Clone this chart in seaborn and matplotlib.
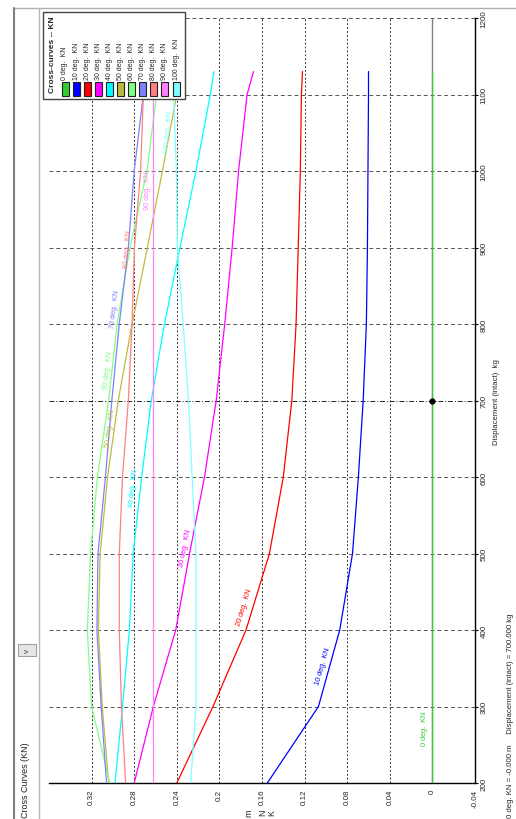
import numpy as np
import pandas as pd
import seaborn as sns
import matplotlib
matplotlib.use('Agg')
from matplotlib import pyplot as plt
from matplotlib.patches import Rectangle
from matplotlib.lines import Line2D

# displacement (kg) at which each cross curve is sampled
disp = [200, 300, 400, 500, 600, 700, 800, 900, 1000, 1100, 1130]

# KN (m) for each heel angle
kn_0 = [0.0, 0.0, 0.0, 0.0, 0.0, 0.0, 0.0, 0.0, 0.0, 0.0, 0.0]
kn_10 = [0.155, 0.107, 0.087, 0.075, 0.0695, 0.065, 0.062, 0.061, 0.0605, 0.060, 0.060]
kn_20 = [0.240, 0.206, 0.175, 0.153, 0.140, 0.132, 0.128, 0.126, 0.124, 0.123, 0.122]
kn_30 = [0.280, 0.262, 0.241, 0.228, 0.214, 0.203, 0.195, 0.188, 0.182, 0.174, 0.168]
kn_40 = [0.298, 0.291, 0.2845, 0.281, 0.273, 0.264, 0.2516, 0.237, 0.222, 0.2085, 0.205]
kn_50 = [0.304, 0.310, 0.3136, 0.312, 0.305, 0.295, 0.282, 0.2676, 0.2535, 0.240, 0.2376]
kn_60 = [0.303, 0.320, 0.324, 0.321, 0.3146, 0.304, 0.296, 0.284, 0.268, 0.259, 0.256]
kn_70 = [0.306, 0.311, 0.315, 0.314, 0.307, 0.301, 0.294, 0.2855, 0.280, 0.2714, 0.2686]
kn_80 = [0.288, 0.292, 0.294, 0.294, 0.291, 0.2855, 0.282, 0.2798, 0.274, 0.2714, 0.2695]
kn_90 = [0.262, 0.262, 0.262, 0.262, 0.262, 0.262, 0.262, 0.262, 0.262, 0.262, 0.262]
kn_100 = [0.227, 0.222, 0.222, 0.222, 0.2256, 0.229, 0.234, 0.2395, 0.2404, 0.243, 0.244]

names = ['0 deg.  KN', '10 deg.  KN', '20 deg.  KN', '30 deg.  KN', '40 deg.  KN', '50 deg.  KN',
         '60 deg.  KN', '70 deg.  KN', '80 deg.  KN', '90 deg.  KN', '100 deg.  KN']
series = [kn_0, kn_10, kn_20, kn_30, kn_40, kn_50, kn_60, kn_70, kn_80, kn_90, kn_100]
colors = ['#33cc33', '#0000ff', '#ff0000', '#ff00ff', '#00ffff', '#bcbc3c',
          '#80ff80', '#8080ff', '#ff8080', '#ff80ff', '#80ffff']

kn_ticks = [-0.04, 0.0, 0.04, 0.08, 0.12, 0.16, 0.2, 0.24, 0.28, 0.32]
kn_tick_labels = ['-0.04', '0', '0.04', '0.08', '0.12', '0.16', '0.2', '0.24', '0.28', '0.32']
disp_ticks = [200, 300, 400, 500, 600, 700, 800, 900, 1000, 1100, 1200]

# current condition marker
mark_kn = 0.0
mark_disp = 700

rows = []
for name, vals in zip(names, series):
    for d, k in zip(disp, vals):
        rows.append((name, d, k))
df = pd.DataFrame(rows, columns=['curve', 'disp', 'kn'])

sns.set_style('white')
plt.rcParams['font.family'] = ['Liberation Sans Narrow', 'Liberation Sans', 'DejaVu Sans']

W, H = 516, 820
fig = plt.figure(figsize=(W / 100, H / 100), dpi=100)


def fx(px):
    return px / W


def fy(py):
    return 1 - py / H


ax = fig.add_axes([fx(49), fy(784), fx(475) - fx(49), fy(19) - fy(784)])
ax.set_xlim(0.36, -0.04)
ax.set_ylim(200, 1200)

# grid
for k in kn_ticks:
    if k == -0.04:
        continue
    if k == 0.0:
        ax.axvline(k, color='#808080', lw=1, zorder=1)
    else:
        ax.axvline(k, color='#333333', lw=0.7, ls=(0, (2, 2)), zorder=1)
for d in disp_ticks:
    if d == 200:
        continue
    if d == mark_disp:
        ax.axhline(d, color='#222222', lw=0.7, ls=(0, (5, 2, 1, 2)), zorder=1)
    else:
        ax.axhline(d, color='#555555', lw=0.7, ls=(0, (4, 3)), zorder=1)

sns.lineplot(data=df, x='kn', y='disp', hue='curve', palette=dict(zip(names, colors)),
             estimator=None, sort=False, lw=0.9, legend=False, ax=ax, zorder=3)
ax.plot(mark_kn, mark_disp, 'o', color='black', ms=3.5, zorder=4)

# curve labels
label_pos = {
    '0 deg.  KN': (0.0075, 272, 90),
    '10 deg.  KN': (0.103, 354, 74),
    '20 deg.  KN': (0.1765, 431, 73),
    '30 deg.  KN': (0.232, 508, 79),
    '40 deg.  KN': (0.281, 586, 84),
    '50 deg.  KN': (0.303, 665, 82),
    '60 deg.  KN': (0.305, 741, 83),
    '70 deg.  KN': (0.2977, 820, 83),
    '80 deg.  KN': (0.2855, 898, 86),
    '90 deg.  KN': (0.2676, 975, 90),
    '100 deg.  KN': (0.248, 1052, 85),
}
for name, c in zip(names, colors):
    kx, dy, rot = label_pos[name]
    ax.text(kx, dy, name, rotation=rot, rotation_mode='anchor', ha='center', va='center',
            fontsize=5.3, color=c, zorder=5)

# axes styling
for s in ['top', 'left']:
    ax.spines[s].set_visible(False)
for s in ['bottom', 'right']:
    ax.spines[s].set_color('black')
    ax.spines[s].set_linewidth(1)
ax.set_xticks(kn_ticks)
ax.set_xticklabels(kn_tick_labels, rotation=90, fontsize=5.8)
ax.yaxis.tick_right()
ax.set_yticks(disp_ticks)
ax.set_yticklabels([str(d) for d in disp_ticks], rotation=90, va='center', fontsize=5.8)
ax.tick_params(length=2, width=0.8, color='black', pad=2)
ax.set_xlabel('')
ax.set_ylabel('')
fig.text(fx(496), fy(402), 'Displacement (intact)  kg', rotation=90,
         ha='center', va='center', fontsize=5.6)

# KN axis label (stacked letters)
fig.text(fx(249), fy(813), 'm', rotation=90, ha='center', va='center', fontsize=6.5)
fig.text(fx(263), fy(813), 'N', rotation=90, ha='center', va='center', fontsize=6.5)
fig.text(fx(272), fy(813), 'K', rotation=90, ha='center', va='center', fontsize=6.5)

# status text
fig.text(fx(510), fy(818), '0 deg. KN = -0.000 m     Displacement (intact) = 700.000 kg',
         rotation=90, ha='center', va='bottom', fontsize=5.6)

# legend drawn in the rotated frame
fig.add_artist(Rectangle((fx(43), fy(100)), fx(185) - fx(43), fy(13) - fy(100),
                         transform=fig.transFigure, facecolor='white', edgecolor='#444444',
                         lw=1, zorder=10))
fig.text(fx(52), fy(93), 'Cross-curves -- KN', rotation=90, ha='center', va='bottom',
         fontsize=6, fontweight='bold', zorder=11)
for i, (name, c) in enumerate(zip(names, colors)):
    cx = 65 + i * 11.1
    fig.add_artist(Rectangle((fx(cx - 3.5), fy(97)), fx(7), fy(83) - fy(97),
                             transform=fig.transFigure, facecolor=c, edgecolor='#222222',
                             lw=0.8, zorder=11))
    fig.text(fx(cx), fy(80), name, rotation=90, ha='center', va='bottom', fontsize=5,
             zorder=11)

# window chrome
fig.add_artist(Line2D([fx(14), fx(516)], [fy(9), fy(9)], transform=fig.transFigure,
                      color='#b0b0b0', lw=1))
fig.add_artist(Line2D([fx(14), fx(14)], [fy(9), fy(820)], transform=fig.transFigure,
                      color='#808080', lw=1.5))
fig.add_artist(Line2D([fx(38.5), fx(38.5)], [fy(9), fy(820)], transform=fig.transFigure,
                      color='#b8b8b8', lw=1))
fig.add_artist(Rectangle((fx(18), fy(657)), fx(18), fy(645) - fy(657),
                         transform=fig.transFigure, facecolor='#e6e6e6', edgecolor='#a0a0a0',
                         lw=0.8))
fig.text(fx(27), fy(651), 'v', rotation=90, ha='center', va='center', fontsize=6,
         color='#444444')
fig.text(fx(26), fy(818), 'Cross Curves (KN)', rotation=90, ha='center', va='bottom',
         fontsize=6.5, color='#222222')

fig.savefig('out.png', dpi=100)
